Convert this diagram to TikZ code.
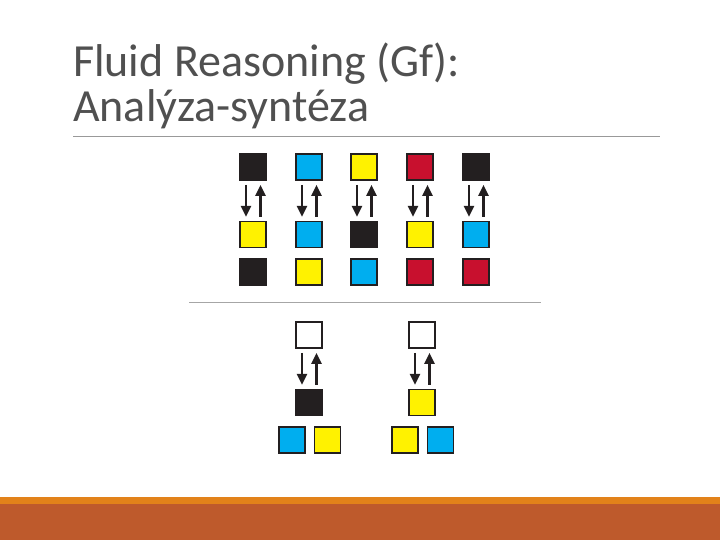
\documentclass[tikz,border=0pt]{standalone}
\usepackage{fontspec}
\setmainfont{Carlito}
\usetikzlibrary{positioning,arrows.meta}

\definecolor{cblack}{RGB}{35,31,32}
\definecolor{cblue}{RGB}{0,174,239}
\definecolor{cyellow}{RGB}{255,242,0}
\definecolor{cred}{RGB}{200,16,46}
\definecolor{cwhite}{RGB}{255,255,255}
\definecolor{titlegray}{RGB}{80,80,80}
\definecolor{barlight}{RGB}{226,130,26}
\definecolor{bardark}{RGB}{190,90,44}

\begin{document}
\begin{tikzpicture}[
        x=1pt, y=-1pt,
        sq/.style={rectangle, draw=cblack, line width=1.6pt, minimum size=26pt, inner sep=0pt, fill=#1},
        arrow/.style={-{Triangle[width=10pt,length=11pt]}, line width=2.4pt, draw=cblack},
        title/.style={anchor=base west, inner sep=0pt, font=\fontsize{46}{46}\selectfont, text=titlegray, align=left}
    ]
        \useasboundingbox (0,0) rectangle (720,540);
        % Title
        \node[title] (t1) at (73,77) {Fluid Reasoning (Gf):};
        \node[title] (t2) at (73,122) {Analýza-syntéza};
        \coordinate (rl) at (73,136);
        \coordinate (rr) at (660,136);
        \draw[gray!80, line width=0.8pt] (rl) -- (rr);
        % Upper part: five columns
        \foreach \i/\x/\ca/\cb/\cc in {1/253/cblack/cyellow/cblack, 2/309/cblue/cblue/cyellow,
                3/364/cyellow/cblack/cblue, 4/420/cred/cyellow/cred, 5/476/cblack/cblue/cred} {
            \node[sq=\ca] (a\i) at (\x,167) {};
            \node[sq=\cb, below=40pt of a\i] (b\i) {};
            \node[sq=\cc, below=10pt of b\i] (c\i) {};
            \draw[arrow] ([xshift=-7pt,yshift=-4pt]a\i.south) -- ([xshift=-7pt,yshift=4pt]b\i.north);
            \draw[arrow] ([xshift=7.5pt,yshift=4pt]b\i.north) -- ([xshift=7.5pt,yshift=-4pt]a\i.south);
        }
        % Separator
        \coordinate (sl) at (189,302);
        \coordinate (sr) at (541,302);
        \draw[gray!70, line width=0.6pt] (sl) -- (sr);
        % Lower part: two questions
        \foreach \i/\x/\cm/\cl/\cr in {1/309/cblack/cblue/cyellow, 2/422/cyellow/cyellow/cblue} {
            \node[sq=cwhite] (q\i) at (\x,335) {};
            \node[sq=\cm, below=40pt of q\i] (m\i) {};
            \node[sq=\cl, below=10pt of m\i, xshift=-17pt] (l\i) {};
            \node[sq=\cr, right=8pt of l\i] (r\i) {};
            \draw[arrow] ([xshift=-7pt,yshift=-4pt]q\i.south) -- ([xshift=-7pt,yshift=4pt]m\i.north);
            \draw[arrow] ([xshift=7.5pt,yshift=4pt]m\i.north) -- ([xshift=7.5pt,yshift=-4pt]q\i.south);
        }
        % Footer bar
        \fill[barlight] (0,497) rectangle (720,504);
        \fill[bardark] (0,504) rectangle (720,540);
    \end{tikzpicture}
\end{document}
